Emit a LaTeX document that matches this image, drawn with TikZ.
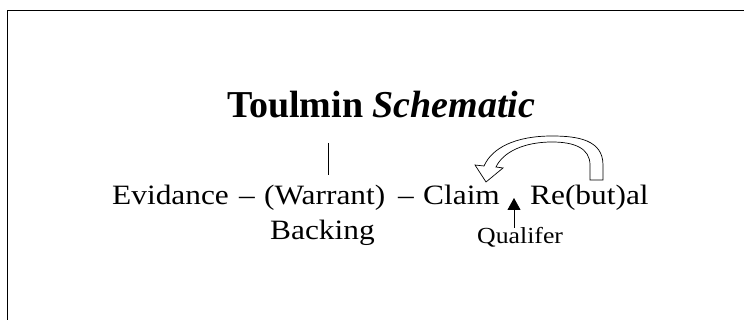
\documentclass[tikz,border=0pt]{standalone}
\usepackage{fontspec}
\setmainfont{Liberation Serif}
\newfontfamily\widefont[FakeStretch=1.12,Ligatures=TeX]{Liberation Serif}
\usepackage{tikz}
\usetikzlibrary{arrows.meta}

\begin{document}
\begin{tikzpicture}[x=1pt,y=1pt,
  word/.style={inner sep=0pt,anchor=base west,font=\widefont\fontsize{28}{34}\selectfont},
  small/.style={inner sep=0pt,anchor=base west,font=\widefont\fontsize{23}{28}\selectfont}]
  \useasboundingbox (0,0) rectangle (744,320);
  \draw[line width=1pt] (7,0) -- (7,309.5) -- (744,309.5);
  \node (title) at (227,202) [inner sep=0pt,anchor=base west,font=\fontsize{38}{45}\selectfont]{\textbf{Toulmin} \textit{\textbf{Schematic}}};
  \node (evidance) at (112,115) [word]{Evidance};
  \node (dashA) at (239,115) [word]{--};
  \node (warrant) at (264,115) [word]{(Warrant)};
  \node (dashB) at (398,115) [word]{--};
  \node (claim) at (423,115) [word]{Claim};
  \node (rebuttal) at (530,115) [word]{Re(but)al};
  \node (backing) at (270,80) [word]{Backing};
  \node (qualifer) at (477,76) [small]{Qualifer};
  \coordinate (wtop) at (328,177);
  \draw[line width=0.7pt] (wtop) -- (warrant.north -| wtop) [shorten >=10pt];
  \coordinate (qtip) at (514,122);
  \draw[line width=0.8pt,-{Triangle[length=12pt,width=13pt]}] (qualifer.north -| qtip) -- (qtip);
  % hollow arrow from Re(but)al back to Claim
  \draw[line width=0.7pt,fill=white] (590,140) -- (603,140) -- (603,155)
    .. controls (603,180) and (578,184) .. (552,184)
    .. controls (515,184) and (492,172) .. (484,154)
    -- (475,155) -- (486,138) -- (503,152) -- (496,153)
    .. controls (503,168) and (524,178) .. (552,178)
    .. controls (574,178) and (590,172) .. (590,155) -- cycle;
\end{tikzpicture}
\end{document}
